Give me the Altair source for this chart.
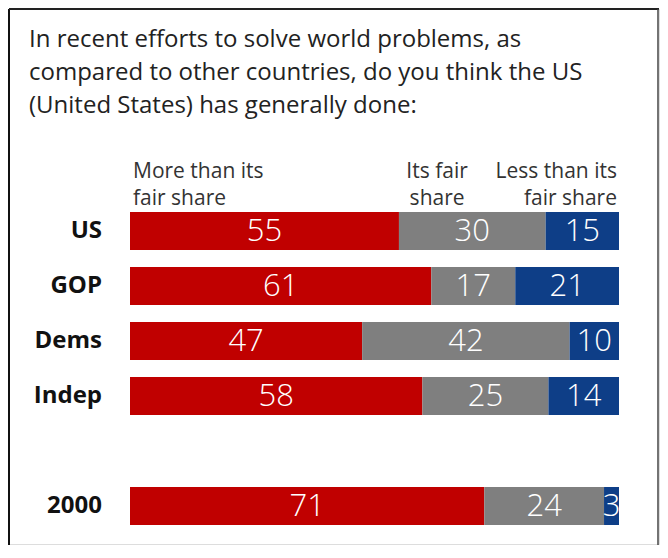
import altair as alt
import pandas as pd

groups = ["US", "GOP", "Dems", "Indep", "2000"]
more_than = [55, 61, 47, 58, 71]
fair = [30, 17, 42, 25, 24]
less_than = [15, 21, 10, 14, 3]
responses = ["More than its fair share", "Its fair share", "Less than its fair share"]
colors = ["#C00000", "#7F7F7F", "#0E3E87"]
y_domain = ["US", "GOP", "Dems", "Indep", "gap", "2000"]

title_text = ("In recent efforts to solve world problems,  as\n"
              "compared to other countries, do you think the US\n"
              "(United States) has generally done:")
header_text = ["More than its\nfair share", "Its fair\nshare", "Less than its\nfair share"]
header_pos = [0.0, 0.628, 1.0]
header_align = ["left", "center", "right"]

rows = []
for i, g in enumerate(groups):
    for j, (r, v) in enumerate(zip(responses, [more_than[i], fair[i], less_than[i]])):
        rows.append({"group": g, "response": r, "order": j, "value": v})
df = pd.DataFrame(rows)

FONT = "Open Sans"
W, H = 650, 535
xscale = alt.Scale(domain=[0, 1], range=[121, 610], nice=False, zero=False)
yscale = alt.Scale(domain=y_domain, range=[194.5, 524.5], paddingInner=0.31, paddingOuter=0.155)

base = alt.Chart(df).transform_stack(
    stack="value", groupby=["group"], as_=["v0", "v1"], offset="normalize",
    sort=[alt.SortField("order", order="ascending")]
).transform_calculate(mid="(datum.v0 + datum.v1) / 2")

bars = base.mark_bar().encode(
    x=alt.X("v0:Q", scale=xscale, axis=None),
    x2="v1:Q",
    y=alt.Y("group:N", scale=yscale, axis=None),
    color=alt.Color("response:N", scale=alt.Scale(domain=responses, range=colors), legend=None),
)

nums = base.mark_text(color="white", fontSize=31, font=FONT, fontWeight=300,
                      baseline="middle", dy=1).encode(
    x=alt.X("mid:Q", scale=xscale, axis=None),
    y=alt.Y("group:N", scale=yscale, axis=None),
    text="value:Q",
)

cat_df = pd.DataFrame({"group": groups})
cats = alt.Chart(cat_df).mark_text(
    align="right", baseline="middle", fontSize=24, fontWeight="bold", font=FONT, color="#111"
).encode(
    x=alt.value(93),
    y=alt.Y("group:N", scale=yscale, axis=None),
    text="group:N",
)

title_df = pd.DataFrame({"t": [title_text]})
title = alt.Chart(title_df).mark_text(
    align="left", baseline="middle", fontSize=24, font=FONT, color="#222",
    lineBreak="\n", lineHeight=33
).encode(x=alt.value(20), y=alt.value(31), text="t:N")

hdr_layers = []
for t, p, a, dx in zip(header_text, header_pos, header_align, [3, 0, -2]):
    hdf = pd.DataFrame({"t": [t], "p": [p]})
    hdr_layers.append(
        alt.Chart(hdf).mark_text(
            align=a, baseline="middle", fontSize=21, font=FONT, color="#333",
            lineBreak="\n", lineHeight=27, dx=dx
        ).encode(x=alt.X("p:Q", scale=xscale, axis=None), y=alt.value(163), text="t:N")
    )

bdf = pd.DataFrame({"k": [0]})
b_left = alt.Chart(bdf).mark_rule(color="#111", strokeWidth=2).encode(
    x=alt.value(0), y=alt.value(0), y2=alt.value(H + 1))
b_top = alt.Chart(bdf).mark_rule(color="#222", strokeWidth=2).encode(
    y=alt.value(0), x=alt.value(0), x2=alt.value(W))
b_right = alt.Chart(bdf).mark_rule(color="#444", strokeWidth=1.5).encode(
    x=alt.value(W - 1), y=alt.value(0), y2=alt.value(H + 1))

chart = alt.layer(bars, nums, cats, title, *hdr_layers, b_left, b_top, b_right).properties(
    width=W, height=H,
    autosize=alt.AutoSizeParams(type="none"),
    padding={"left": 1, "top": 1, "right": 1, "bottom": 1},
).configure_view(strokeWidth=0).configure(background="white")

chart.save("out.html", embed_options={"renderer": "svg", "actions": False})
